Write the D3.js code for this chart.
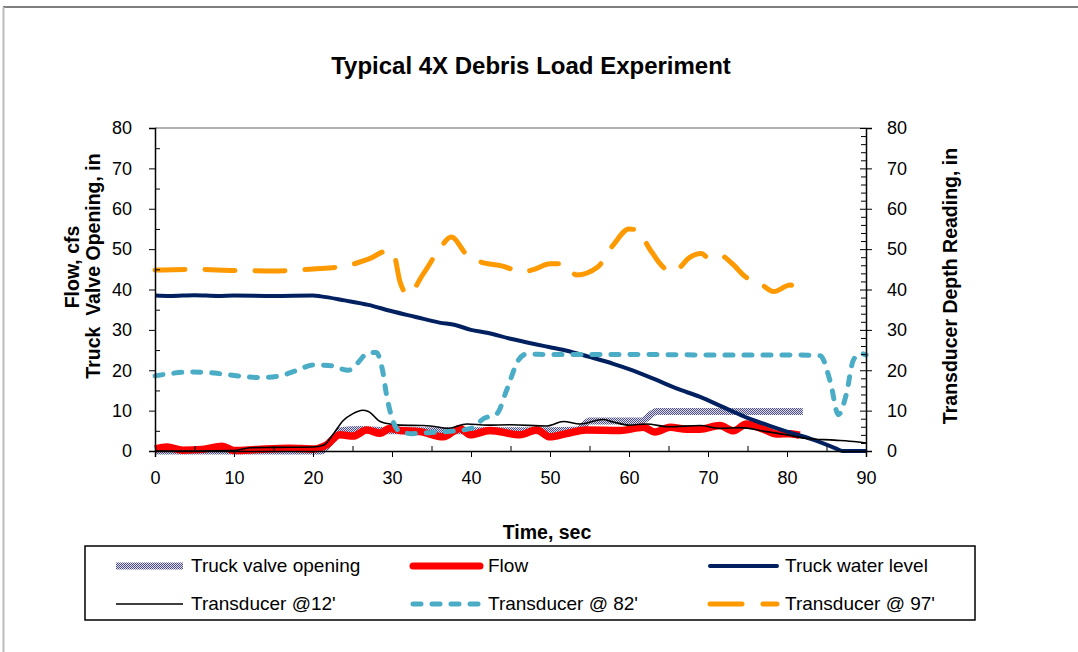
<!DOCTYPE html>
<html>
<head>
<meta charset="utf-8">
<script src="https://cdn.jsdelivr.net/npm/d3@7"></script>
<style>
  body { margin: 0; background: #fff; }
  svg { display: block; font-family: "Liberation Sans", Arial, sans-serif; }
</style>
</head>
<body>
<div id="chart"></div>
<script>
// [time sec, value]
const valveOpening = [[0,0],[10,0],[21,0],[22.5,3],[23.5,5],[26,5.3],[30,5],[35,5],[40,5],[45,5],[50,5],[53.5,5.2],[55,7.4],[58,7.4],[61.5,7.4],[63.5,9.8],[70,9.8],[76,9.8],[82,9.8]];
const flow = [[0,0.5],[1.5,1.0],[3.5,0.2],[6,0.4],[8.5,1.2],[10,0.1],[13,0.4],[17,0.7],[20,0.5],[21.7,1.5],[23.4,4.0],[25.1,3.7],[26.8,5.2],[28.5,4.4],[29.7,5.6],[31,5.1],[33.5,4.8],[36.5,3.5],[38.6,5.6],[39.9,4.0],[42.4,5.1],[46.2,4.0],[48.3,5.2],[50,3.5],[52.1,4.3],[54.6,5.2],[58.9,5.1],[61.8,5.9],[63.3,4.7],[65.2,5.9],[67.3,5.4],[69,5.4],[71.5,6.3],[73.2,5.0],[74.9,6.7],[77,5.4],[78.7,4.2],[80.4,4.3],[81.6,3.9]];
const waterLevel = [[0,38.5],[2,38.4],[5,38.6],[8,38.4],[10,38.5],[15,38.4],[20,38.5],[21,38.3],[24,37.3],[27,36.2],[30,34.6],[33,33.2],[36,31.8],[38,31.2],[40,30.0],[42,29.3],[45,27.8],[48,26.5],[50,25.7],[52,24.9],[55,23.3],[58,21.6],[60,20.3],[63,18.0],[66,15.5],[69,13.4],[72,10.8],[75,8.2],[78,6.1],[80,4.8],[83,3.0],[86,0.8],[87,0],[90,0]];
const trans12 = [[0,0],[5,0],[10,0.1],[12,0.8],[15,0.9],[20,1.0],[21.4,1.5],[22.5,4],[23.8,7.5],[25,9.2],[26.3,10.1],[27,9.8],[28.5,7.3],[30,6.6],[31,6.4],[34,6.3],[36,5.9],[37,5.6],[39.5,6.7],[42,6.4],[45,6.5],[49.6,6.2],[51.7,7.3],[53.8,6.7],[56.7,7.8],[58,7.2],[60,6.4],[62.2,6.7],[65,6.0],[69,6.3],[71.5,5.6],[74,5.8],[77.4,4.8],[80,4.0],[82.5,3.1],[86,2.7],[88.8,2.3],[90,2.0]];
const trans82 = [[0,18.6],[2,19.2],[4.5,19.6],[7.5,19.3],[10.5,18.6],[13,18.2],[15.5,18.5],[18,20],[20,21.3],[22,21.2],[24.5,20],[25.5,21.5],[27,24.3],[28,24.4],[28.8,20],[29.3,14],[30.2,7],[31,4.8],[32.5,4.3],[35,4.6],[37,4.8],[40,5.6],[41.6,8],[43.3,9.3],[44.5,15],[46,22.5],[47,24.0],[50,23.9],[60,23.9],[70,23.8],[80,23.8],[84.2,23.6],[85.5,17],[86.5,9],[87.5,14],[88.4,22.5],[89.3,24.2],[90,23.8]];
const trans97 = [[0,44.8],[5,45.0],[10,44.7],[15,44.6],[20,45.1],[24,45.8],[27,47.5],[29.5,49.6],[30.2,48.9],[31,42],[32,38.8],[34,44],[36,50],[37.5,53],[39.5,48.5],[41,47],[44,45.8],[46.5,44.4],[48,45],[50,46.4],[51.5,46.4],[53.4,43.6],[56,45.5],[58,51],[60,55],[61,54.7],[62.7,49.8],[64.3,45.6],[65.2,44.4],[66.5,45.6],[67.5,47.7],[69.2,48.9],[70,47.9],[71.5,48.5],[73,46.5],[74.7,43.2],[76.6,41.5],[78.3,39.5],[80.4,41.1],[81.6,39.7]];

const xTicks = [0, 10, 20, 30, 40, 50, 60, 70, 80, 90];
const yTicks = [0, 10, 20, 30, 40, 50, 60, 70, 80];

const seriesNames = ["Truck valve opening", "Flow", "Truck water level", "Transducer @12'", "Transducer @ 82'", "Transducer @ 97'"];

const W = 1078, H = 652;
const plot = { left: 155, right: 866, top: 128, bottom: 451 };
const tickFont = "18px", titleFont = "19.5px";

const svg = d3.select("#chart").append("svg").attr("width", W).attr("height", H);

// checker pattern for valve opening
const defs = svg.append("defs");
const pat = defs.append("pattern").attr("id", "checker")
    .attr("width", 2).attr("height", 2).attr("patternUnits", "userSpaceOnUse");
pat.append("rect").attr("width", 2).attr("height", 2).attr("fill", "#dcdcea");
pat.append("rect").attr("width", 1).attr("height", 1).attr("fill", "#4f4f82");
pat.append("rect").attr("x", 1).attr("y", 1).attr("width", 1).attr("height", 1).attr("fill", "#4f4f82");

// outer frame bits
svg.append("line").attr("x1", 3).attr("x2", W).attr("y1", 7).attr("y2", 7)
    .attr("stroke", "#555").attr("stroke-width", 1.5);
svg.append("line").attr("x1", 3.5).attr("x2", 3.5).attr("y1", 7).attr("y2", H)
    .attr("stroke", "#bbb").attr("stroke-width", 2);

const x = d3.scaleLinear().domain([0, 90]).range([plot.left, plot.right]);
const y = d3.scaleLinear().domain([0, 80]).range([plot.bottom, plot.top]);
const y2 = d3.scaleLinear().domain([0, 80]).range([plot.bottom, plot.top]);

// title
svg.append("text").attr("x", 531).attr("y", 74).attr("text-anchor", "middle")
    .style("font-size", "24px").style("font-weight", "bold").text("Typical 4X Debris Load Experiment");

// plot top border
svg.append("line").attr("x1", plot.left).attr("x2", plot.right).attr("y1", plot.top).attr("y2", plot.top)
    .attr("stroke", "#999").attr("stroke-width", 1.5);

// series
const line = (sc) => d3.line().x(d => x(d[0])).y(d => sc(d[1])).curve(d3.curveMonotoneX);

svg.append("path").datum(valveOpening).attr("d", line(y)).attr("fill", "none")
    .attr("stroke", "url(#checker)").attr("stroke-width", 7);
svg.append("path").datum(flow).attr("d", line(y)).attr("fill", "none")
    .attr("stroke", "#ff0000").attr("stroke-width", 7.5).attr("stroke-linejoin", "round");
svg.append("path").datum(waterLevel).attr("d", line(y)).attr("fill", "none")
    .attr("stroke", "#002060").attr("stroke-width", 4);
svg.append("path").datum(trans12).attr("d", line(y2)).attr("fill", "none")
    .attr("stroke", "#000").attr("stroke-width", 1.6);
svg.append("path").datum(trans82).attr("d", line(y2)).attr("fill", "none")
    .attr("stroke", "#4bacc6").attr("stroke-width", 5).attr("stroke-linecap", "round")
    .attr("stroke-dasharray", "8,11");
svg.append("path").datum(trans97).attr("d", line(y2)).attr("fill", "none")
    .attr("stroke", "#ff9900").attr("stroke-width", 5).attr("stroke-linecap", "round")
    .attr("stroke-dasharray", "30,20");

// axes
const styleTicks = g => g.selectAll("text").style("font-size", tickFont)
    .style("font-family", "Liberation Sans, Arial, sans-serif");

// x minor ticks (inside)
svg.append("g").attr("transform", `translate(0,${plot.bottom})`)
    .call(d3.axisBottom(x).tickValues(d3.range(5, 90, 10)).tickSize(-5).tickFormat(""))
    .call(g => g.select(".domain").remove());
svg.append("g").attr("transform", `translate(0,${plot.bottom})`)
    .call(d3.axisBottom(x).tickValues(xTicks).tickSize(6).tickPadding(14))
    .call(g => g.select(".domain").attr("stroke-width", 1.5))
    .call(styleTicks);

// left axis
svg.append("g").attr("transform", `translate(${plot.left},0)`)
    .call(d3.axisLeft(y).tickValues(d3.range(5, 80, 10)).tickSize(-5).tickFormat(""))
    .call(g => g.select(".domain").remove());
svg.append("g").attr("transform", `translate(${plot.left},0)`)
    .call(d3.axisLeft(y).tickValues(yTicks).tickSize(6).tickPadding(17))
    .call(g => g.select(".domain").attr("stroke-width", 1.5))
    .call(styleTicks);

// right axis
svg.append("g").attr("transform", `translate(${plot.right},0)`)
    .call(d3.axisRight(y2).tickValues(d3.range(0, 81, 2).filter(v => v % 10 !== 0)).tickSize(-5).tickFormat(""))
    .call(g => g.select(".domain").remove());
svg.append("g").attr("transform", `translate(${plot.right},0)`)
    .call(d3.axisRight(y2).tickValues(yTicks).tickSize(-6).tickFormat(""))
    .call(g => g.select(".domain").remove());
svg.append("g").attr("transform", `translate(${plot.right},0)`)
    .call(d3.axisRight(y2).tickValues(yTicks).tickSize(6).tickPadding(15))
    .call(g => g.select(".domain").attr("stroke-width", 1.5))
    .call(styleTicks);

// axis titles
svg.append("text").attr("x", 547).attr("y", 539).attr("text-anchor", "middle")
    .style("font-size", titleFont).style("font-weight", "bold").text("Time, sec");

svg.append("text").attr("transform", "translate(79,267) rotate(-90)").attr("text-anchor", "middle")
    .style("font-size", titleFont).style("font-weight", "bold").text("Flow, cfs");
svg.append("text").attr("transform", "translate(100,266) rotate(-90)").attr("text-anchor", "middle")
    .style("font-size", titleFont).style("font-weight", "bold").style("white-space", "pre")
    .text("Truck  Valve Opening, in");
svg.append("text").attr("transform", "translate(957,286) rotate(-90)").attr("text-anchor", "middle")
    .style("font-size", titleFont).style("font-weight", "bold").text("Transducer Depth Reading, in");

// legend
svg.append("rect").attr("x", 85).attr("y", 546).attr("width", 890).attr("height", 74)
    .attr("fill", "#fff").attr("stroke", "#000").attr("stroke-width", 1.5);

const legendStyles = [
    { stroke: "url(#checker)", w: 7, dash: null, cap: "butt" },
    { stroke: "#ff0000", w: 7, dash: null, cap: "round" },
    { stroke: "#002060", w: 4, dash: null, cap: "round" },
    { stroke: "#000", w: 1.6, dash: null, cap: "butt" },
    { stroke: "#4bacc6", w: 5, dash: "8,11", cap: "round" },
    { stroke: "#ff9900", w: 5, dash: "32,21", cap: "round" }
];
const colX = [113, 410, 707];
const rowY = [566, 604];
seriesNames.forEach((name, i) => {
    const cx = colX[i % 3], cy = rowY[Math.floor(i / 3)];
    const s = legendStyles[i];
    svg.append("line").attr("x1", cx + 3).attr("x2", cx + 70).attr("y1", cy).attr("y2", cy)
        .attr("stroke", s.stroke).attr("stroke-width", s.w).attr("stroke-linecap", s.cap)
        .attr("stroke-dasharray", s.dash);
    svg.append("text").attr("x", cx + 78).attr("y", cy + 6)
        .style("font-size", "19px").text(name);
});
</script>
</body>
</html>
